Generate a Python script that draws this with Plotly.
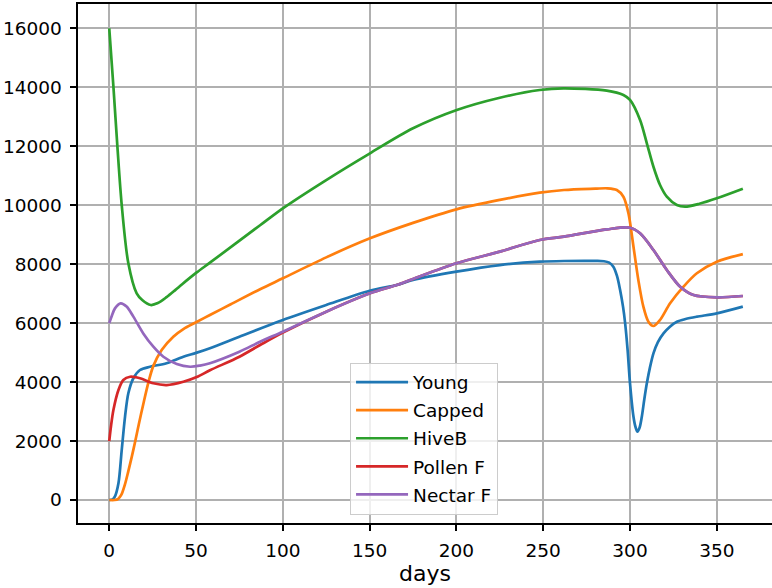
import plotly.graph_objects as go

# ---- data ----
young_days = [0, 2, 3.3, 5.3, 7.2, 9.1, 11, 13.9, 17.7, 23.5, 33, 42.7, 50, 58, 75, 100, 125, 150,
              165.6, 175, 200, 225, 248, 262, 280, 285, 288, 290.4, 292.5, 294.3, 296, 297.2, 298.6,
              300, 302, 303.3, 304.3, 305.5, 306.8, 308.2, 309.7, 311.5, 313.5, 316, 319.3, 323,
              327, 332, 338.5, 350, 365]
young_vals = [0, 20, 120, 565, 1700, 2830, 3620, 4130, 4410, 4520, 4640, 4860, 4990, 5150, 5540,
              6106, 6614, 7100, 7293, 7462, 7745, 7970, 8084, 8107, 8110, 8100, 8050, 7914, 7600,
              7123, 6550, 5994, 5100, 3958, 2826, 2450, 2317, 2450, 2826, 3400, 3958, 4500, 4976,
              5350, 5654, 5880, 6048, 6140, 6218, 6333, 6560]

capped_days = [0, 3, 5, 7, 9, 11, 13, 15, 17, 19.6, 22.6, 25.4, 30.2, 36.9, 42.7, 50, 58, 70,
               86.9, 100, 125, 150.2, 175, 200, 225, 248, 262, 280, 287, 292.4, 296.2, 299.1,
               302, 304.8, 307.7, 310.6, 313.5, 317.3, 323.1, 330.8, 338.5, 350, 365]
capped_vals = [0, 0, 30, 180, 520, 980, 1470, 2000, 2560, 3250, 4000, 4550, 5090, 5540, 5800,
               6030, 6275, 6640, 7150, 7520, 8230, 8876, 9400, 9860, 10180, 10424, 10515, 10560,
               10573, 10515, 10288, 9725, 8593, 7462, 6557, 6048, 5902, 6106, 6672, 7235, 7690,
               8084, 8340]

hiveb_days = [0, 2.4, 4.7, 7.2, 11, 15.8, 19, 23.9, 28, 33, 38, 42, 50.4, 58, 86.9, 100, 125,
              150.2, 175, 200.2, 225, 248, 261.6, 286.6, 296.2, 300, 305.8, 309.7, 313.5, 317.3,
              321.2, 327, 331.7, 340, 350, 365]
hiveb_vals = [16000, 14020, 11985, 10000, 8030, 7010, 6784, 6615, 6680, 6880, 7120, 7320, 7720,
              8050, 9320, 9894, 10854, 11760, 12608, 13230, 13647, 13907, 13965, 13885, 13740,
              13570, 12890, 12100, 11305, 10685, 10290, 10006, 9950, 10050, 10235, 10560]

pollen_days = [0, 1, 2.4, 5.3, 8.1, 12, 17.7, 25.4, 33.1, 42.7, 50.4, 58, 75, 86.9, 100, 125,
               150.2, 165.6, 175, 200, 225, 248, 262, 286.6, 300, 305.8, 313.5, 321.2, 328.9,
               336.6, 350, 365]
pollen_vals = [2000, 2500, 3050, 3730, 4070, 4180, 4130, 3960, 3900, 4010, 4170, 4400, 4861,
               5258, 5680, 6387, 7011, 7293, 7500, 8030, 8424, 8819, 8932, 9180, 9237, 9046,
               8480, 7802, 7235, 6954, 6875, 6920]

nectar_days = [0, 1.5, 3.3, 6.6, 10, 13.9, 19.6, 25.4, 31.2, 38.9, 46.6, 52.3, 58, 75, 86.9, 100,
               125, 150.2, 165.6, 175, 200, 225, 248, 262, 286.6, 300, 305.8, 313.5, 321.2, 328.9,
               336.6, 350, 365]
nectar_vals = [6000, 6250, 6500, 6670, 6560, 6220, 5650, 5200, 4860, 4610, 4520, 4560, 4640,
               5030, 5370, 5710, 6387, 7011, 7293, 7500, 8030, 8424, 8819, 8932, 9180, 9237, 9046,
               8480, 7802, 7235, 6954, 6875, 6920]

series_names = ["Young", "Capped", "HiveB", "Pollen F", "Nectar F"]
colors = ["#1f77b4", "#ff7f0e", "#2ca02c", "#d62728", "#9467bd"]
x_ticks = [0, 50, 100, 150, 200, 250, 300, 350]
y_ticks = [0, 2000, 4000, 6000, 8000, 10000, 12000, 14000, 16000]

series = [(young_days, young_vals), (capped_days, capped_vals), (hiveb_days, hiveb_vals),
          (pollen_days, pollen_vals), (nectar_days, nectar_vals)]

fig = go.Figure()
for i, ((d, v), name, c) in enumerate(zip(series, series_names, colors)):
    fig.add_trace(go.Scatter(x=d, y=v, mode="lines", name=name, legendgroup=name,
                             line=dict(color=c, width=2.7, shape="spline", smoothing=0.85)))

font = dict(family="DejaVu Sans", size=18.5, color="black")
fig.update_layout(
    width=772, height=588,
    margin=dict(l=78, r=0, t=4, b=65),
    paper_bgcolor="white", plot_bgcolor="white",
    font=font,
    showlegend=True,
    legend=dict(x=0.392, y=0.309, xanchor="left", yanchor="top",
                bgcolor="rgba(255,255,255,0.8)", bordercolor="#cccccc", borderwidth=1,
                tracegroupgap=1, itemwidth=52, font=font),
)
fig.update_xaxes(range=[-18.0, 381.8], tickvals=x_ticks, ticks="outside", ticklen=6.7, tickwidth=1.5,
                 tickcolor="black", showline=True, linecolor="black", linewidth=1.5, mirror=True,
                 showgrid=True, gridcolor="#b0b0b0", gridwidth=1.5, zeroline=False,
                 title=dict(text="days", standoff=5), ticklabelstandoff=3)
fig.update_yaxes(range=[-780, 16825], tickvals=y_ticks, tickformat="d", ticks="outside", ticklen=6.7,
                 tickwidth=1.5, tickcolor="black", showline=True, linecolor="black", linewidth=1.5,
                 mirror=False, showgrid=True, gridcolor="#b0b0b0", gridwidth=1.5, zeroline=False,
                 ticklabelstandoff=4)

fig.write_html("out.html")
